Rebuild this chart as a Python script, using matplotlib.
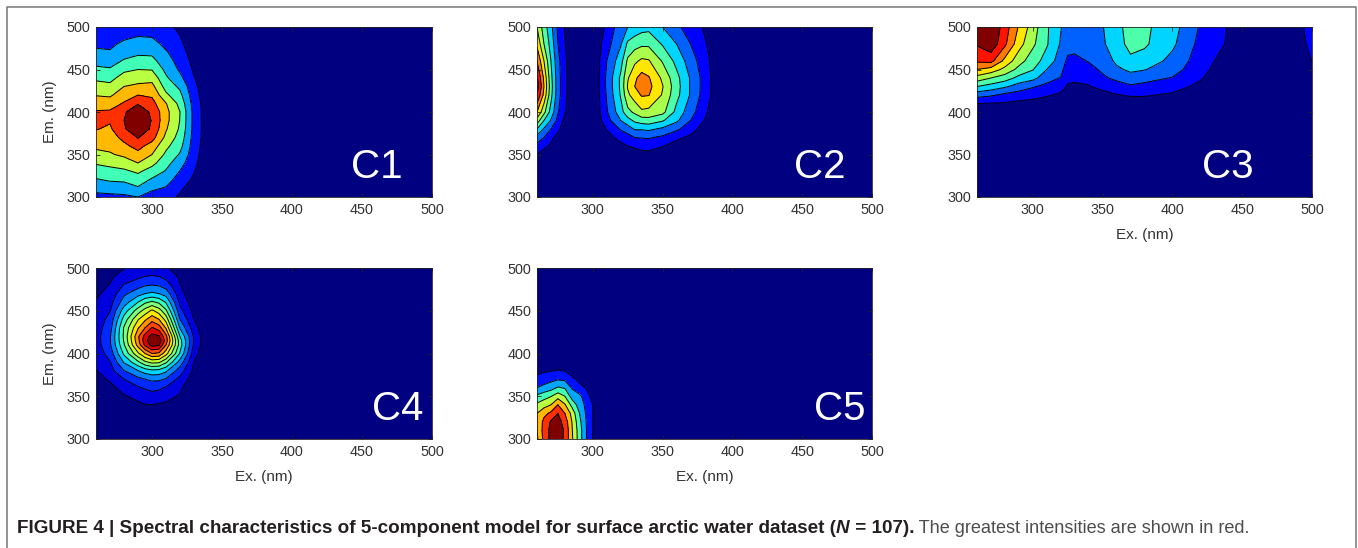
import numpy as np
import matplotlib
matplotlib.use('Agg')
import matplotlib.pyplot as plt
from matplotlib.lines import Line2D

plt.rcParams['font.family'] = ['Liberation Sans', 'DejaVu Sans']

W, H = 1358, 548
TICKS = [300, 350, 400, 450, 500]

# every z list below is one excitation column, going up in emission.
# z is the contour band: 1 is the edge dark blue/blue, 2 the next one etc
c1_ex = [260, 270, 280, 290, 300, 310, 320, 330, 340]
c1_em = [300, 310, 320, 330, 340, 350, 360, 370, 380, 390, 400, 410, 420, 430, 440, 450, 460, 470, 480, 490, 500]
c1_z = [
    [1.7, 2.3, 2.9, 3.5, 4.1, 4.7, 5.2, 5.6, 6.05, 6.15, 6.1, 5.5, 4.95, 4.4, 3.8, 3.2, 2.7, 2.2, 1.8, 1.5, 1.3],
    [1.75, 2.4, 3.1, 3.7, 4.25, 4.9, 5.25, 5.55, 5.85, 6.1, 6.15, 5.5, 4.85, 4.25, 3.7, 3.1, 2.6, 2.1, 1.8, 1.5, 1.3],
    [1.8, 2.5, 3.15, 3.8, 4.5, 5.2, 5.75, 6.3, 6.9, 7, 6.9, 6.1, 5.55, 5, 4.4, 3.8, 3.1, 2.6, 2.2, 1.75, 1.5],
    [2, 2.85, 3.5, 4.15, 5, 5.7, 6.35, 7.05, 7.6, 7.7, 7.5, 6.95, 6, 5.2, 4.6, 4, 3.3, 2.85, 2.4, 1.95, 1.7],
    [1.6, 2.15, 2.85, 3.55, 4.3, 5, 5.55, 6.4, 6.85, 6.95, 6.85, 6.35, 5.85, 5.3, 4.65, 3.95, 3.3, 2.8, 2.35, 1.9, 1.6],
    [1.4, 1.9, 2.4, 2.9, 3.35, 3.8, 4.25, 4.75, 5.1, 5.3, 5.3, 5.05, 4.2, 3.6, 3.15, 2.75, 2.4, 2.1, 1.75, 1.45, 1.25],
    [0.85, 1.15, 1.55, 1.95, 2.4, 2.9, 3.3, 3.6, 3.85, 3.97, 4, 3.7, 3.25, 2.8, 2.25, 1.85, 1.65, 1.45, 1.2, 1, 0.8],
    [0.2, 0.5, 0.8, 1.05, 1.25, 1.4, 1.5, 1.6, 1.65, 1.65, 1.65, 1.55, 1.4, 1.25, 1.05, 0.85, 0.7, 0.5, 0.35, 0.2, 0.1],
    [0, 0, 0.1, 0.1, 0.2, 0.3, 0.35, 0.4, 0.4, 0.4, 0.4, 0.4, 0.35, 0.3, 0.2, 0.15, 0.1, 0.05, 0, 0, 0],
]

c2_ex = [260, 265, 270, 275, 280, 285, 300, 310, 320, 325, 330, 335, 340, 350, 360, 370, 380, 390]
c2_em = [300, 340, 350, 360, 370, 380, 390, 400, 420, 430, 440, 460, 480, 500]
c2_z = [
    [0, 0, 0.95, 1.7, 2.6, 4, 5.6, 7, 9, 9.6, 9.2, 8, 6.8, 6],
    [0, 0, 0.6, 1.2, 2, 2.9, 4, 5.3, 6.7, 7, 6.8, 6, 5, 4.5],
    [0, 0, 0.1, 0.85, 1.2, 2, 2.9, 3.6, 4.3, 4.4, 4.3, 4, 3.6, 3.3],
    [0, 0, 0, 0.4, 0.7, 1.2, 1.7, 2.1, 2.4, 2.4, 2.4, 2.3, 2, 1.8],
    [0, 0, 0, 0, 0.1, 0.4, 0.7, 1.1, 1.25, 1.25, 1.25, 1.2, 1.05, 0.9],
    [0, 0, 0, 0, 0, 0, 0.1, 0.2, 0.3, 0.3, 0.3, 0.3, 0.25, 0.2],
    [0, 0, 0, 0, 0, 0, 0, 0, 0, 0, 0, 0, 0, 0],
    [0, 0, 0, 0.2, 0.7, 1.05, 1.6, 1.9, 2.1, 2.2, 2.2, 2, 1.6, 1.2],
    [0, 0, 0.3, 0.8, 1.25, 2.1, 3, 3.6, 4.1, 4.2, 4.2, 3.6, 2.9, 2.6],
    [0, 0, 0.3, 1, 1.6, 2.5, 3.6, 4.7, 5.8, 6.1, 5.9, 5.2, 4.2, 3],
    [0, 0, 0.4, 1.2, 2, 3.1, 4.2, 5.2, 6.5, 7, 6.8, 5.8, 4.6, 3.3],
    [0, 0, 0.65, 1.35, 2.05, 3.1, 4.5, 5.8, 7.1, 7.6, 7.4, 6.2, 4.8, 3.6],
    [0, 0, 0.7, 1.4, 2.1, 3.2, 4.6, 5.7, 7.05, 7.3, 7.1, 6.1, 4.8, 3.7],
    [0, 0, 0.3, 1.05, 1.8, 2.8, 4.1, 5.3, 5.9, 6.05, 5.8, 4.9, 3.9, 3],
    [0, 0, 0, 0.6, 1.2, 2.2, 3.2, 3.7, 4.3, 4.4, 4.3, 3.7, 3, 2.2],
    [0, 0, 0, 0.2, 0.8, 1.4, 2, 2.4, 2.9, 2.9, 2.9, 2.5, 2, 1.55],
    [0, 0, 0, 0, 0.2, 0.6, 0.95, 1.25, 1.55, 1.6, 1.6, 1.4, 1.15, 0.85],
    [0, 0, 0, 0, 0, 0, 0, 0.1, 0.3, 0.3, 0.3, 0.3, 0.2, 0],
]

c3_ex = [260, 270, 280, 290, 300, 310, 320, 325, 330, 340, 350, 360, 370, 380, 400, 420, 440, 450, 490, 500]
c3_em = [300, 400, 410, 420, 430, 440, 450, 460, 480, 500]
c3_z = [
    [0, 0.3, 1, 2.4, 4, 5.6, 7, 8.15, 9.1, 9.6],
    [0, 0.2, 0.95, 2.15, 3.6, 5, 6.6, 8.3, 9.7, 10],
    [0, 0.05, 0.9, 1.75, 3.15, 4.5, 5.7, 6.7, 8.2, 8.5],
    [0, 0, 0.75, 1.55, 2.55, 3.7, 4.7, 5.4, 6.4, 6.9],
    [0, 0, 0.65, 1.35, 2.1, 3.3, 4.05, 4.45, 5.2, 5.5],
    [0, 0, 0.5, 1.1, 1.75, 2.4, 3, 3.6, 4.1, 4.15],
    [0, 0, 0.3, 0.85, 1.35, 1.95, 2.3, 2.5, 2.9, 3.05],
    [0, 0, 0.1, 0.4, 0.9, 1.2, 1.45, 1.8, 2.4, 2.6],
    [0, 0, 0, 0.3, 0.85, 1.15, 1.4, 1.75, 2.35, 2.5],
    [0, 0, 0, 0.4, 0.95, 1.2, 1.7, 2.05, 2.4, 2.5],
    [0, 0, 0.1, 0.7, 1.25, 1.85, 2.15, 2.4, 2.85, 2.95],
    [0, 0, 0.3, 0.95, 1.6, 2.2, 2.8, 3.2, 3.6, 3.7],
    [0, 0, 0.5, 1.1, 1.85, 2.6, 3.2, 3.8, 4.3, 4.4],
    [0, 0, 0.5, 1.1, 1.75, 2.3, 3.05, 3.6, 4.15, 4.2],
    [0, 0, 0.35, 0.85, 1.4, 1.95, 2.4, 2.7, 3.2, 3.4],
    [0, 0, 0.1, 0.4, 0.75, 1.1, 1.35, 1.5, 1.7, 1.9],
    [0, 0, 0, 0, 0, 0.1, 0.3, 0.5, 0.9, 0.95],
    [0, 0, 0, 0, 0, 0, 0, 0, 0, 0],
    [0, 0, 0, 0, 0, 0, 0, 0.2, 0.5, 0.6],
    [0, 0, 0, 0, 0.3, 0.6, 0.8, 1.02, 1.35, 1.6],
]

c4_ex = [260, 270, 280, 290, 295, 300, 305, 310, 320, 330, 340]
c4_em = [300, 340, 350, 360, 370, 380, 390, 400, 410, 415, 420, 430, 440, 450, 460, 470, 480, 490, 500]
c4_z = [
    [0, 0, 0, 0.2, 0.6, 0.95, 1.2, 1.4, 1.5, 1.55, 1.55, 1.5, 1.4, 1.25, 1.05, 0.85, 0.6, 0.4, 0.2],
    [0, 0, 0.3, 0.7, 1.15, 1.6, 1.95, 2.4, 2.85, 2.9, 2.9, 2.6, 2.3, 1.95, 1.6, 1.3, 1.05, 0.8, 0.5],
    [0, 0.3, 0.9, 1.4, 2, 3, 4.1, 5.2, 5.9, 6.1, 6.2, 6.1, 5.4, 4.5, 3.5, 2.8, 2.05, 1.5, 0.95],
    [0, 0.8, 1.3, 1.9, 2.7, 4, 5.8, 7.8, 9.4, 9.7, 9.8, 8.9, 7.9, 6.5, 5, 3.6, 2.6, 1.8, 1.25],
    [0, 0.95, 1.5, 2.1, 3, 4.5, 6.8, 9, 11.2, 11.6, 11.4, 10, 8.8, 7.4, 5.8, 4, 2.9, 2, 1.4],
    [0, 1, 1.6, 2.3, 3.2, 4.8, 7.3, 10, 12.4, 12.8, 12.4, 11.1, 9.6, 8.2, 6.2, 4.2, 3, 2.1, 1.4],
    [0, 0.9, 1.5, 2.2, 3.2, 4.7, 7.2, 9.8, 12.1, 12.6, 12.1, 10.5, 9, 7.5, 5.8, 4, 2.9, 2, 1.3],
    [0, 0.85, 1.3, 1.9, 2.9, 4.2, 6.2, 8.4, 10, 10.5, 10.3, 8.9, 7.6, 6.2, 4.9, 3.6, 2.5, 1.7, 1.1],
    [0, 0.4, 0.9, 1.2, 1.7, 2.5, 3.6, 4.9, 5.5, 5.4, 5, 3.9, 3, 2.3, 1.8, 1.35, 1.05, 0.85, 0.6],
    [0, 0, 0, 0.1, 0.4, 0.75, 1, 1.4, 1.8, 1.9, 1.85, 1.4, 1, 0.7, 0.4, 0.2, 0.1, 0, 0],
    [0, 0, 0, 0, 0, 0, 0, 0, 0, 0, 0, 0, 0, 0, 0, 0, 0, 0, 0],
]

c5_ex = [260, 265, 270, 275, 280, 285, 290, 295, 300, 310]
c5_em = [300, 310, 320, 330, 340, 350, 360, 370, 380, 390, 400]
c5_z = [
    [4.8, 5, 5, 5, 4.2, 3.2, 2, 1.3, 0.7, 0.2, 0],
    [6.3, 6.4, 6.3, 5.7, 4.6, 3.6, 2.3, 1.5, 0.85, 0.25, 0],
    [7.3, 7.3, 7.1, 6.2, 5, 3.95, 2.6, 1.7, 0.95, 0.3, 0],
    [7.5, 7.6, 7.4, 7, 6, 4.6, 3.1, 1.9, 1.05, 0.3, 0],
    [6.8, 6.85, 6.6, 6, 5.1, 4, 2.9, 1.8, 0.95, 0.3, 0],
    [5.2, 5.1, 5, 4.7, 3.7, 2.6, 1.9, 1.2, 0.6, 0.1, 0],
    [3.6, 3.6, 3.4, 3.1, 2.6, 2.3, 1.3, 0.8, 0.3, 0, 0],
    [2.1, 2.1, 2.05, 1.95, 1.8, 1.5, 0.95, 0.4, 0, 0, 0],
    [0.98, 0.98, 0.98, 0.98, 0.98, 0.6, 0.2, 0, 0, 0, 0],
    [0, 0, 0, 0, 0, 0, 0, 0, 0, 0, 0],
]

names = ['C1', 'C2', 'C3', 'C4', 'C5']
band_counts = [8, 10, 10, 13, 8]

caption_bold = 'FIGURE 4 | Spectral characteristics of 5-component model for surface arctic water dataset ('
caption_italic = 'N'
caption_bold2 = ' = 107).'
caption_rest = ' The greatest intensities are shown in red.'


def box(x0, y0, x1, y1):
    # pixel box of the reference -> figure fractions
    return [x0 / W, 1 - y1 / H, (x1 - x0) / W, (y1 - y0) / H]


def close_grid(ex, em, z):
    # what is not listed is plain background, so run it out to 500 with zeros
    ex, em, z = list(ex), list(em), np.array(z, dtype=float).T
    if ex[-1] < 500:
        ex.append(500)
        z = np.hstack([z, np.zeros((z.shape[0], 1))])
    if em[-1] < 500:
        em.append(500)
        z = np.vstack([z, np.zeros((1, z.shape[1]))])
    return ex, em, z


def draw_panel(ax, ex, em, z, n_bands):
    ex, em, z = close_grid(ex, em, z)
    jet = plt.get_cmap('jet')
    colors = [jet(i / (n_bands - 1)) for i in range(n_bands)]
    lines = list(range(1, n_bands))
    ax.contourf(ex, em, z, levels=[-1] + lines + [99], colors=colors)
    ax.contour(ex, em, z, levels=lines, colors='black', linewidths=0.7)
    ax.set_xlim(260, 500)
    ax.set_ylim(300, 500)
    ax.set_xticks(TICKS)
    ax.set_yticks(TICKS)
    ax.tick_params(direction='in', top=True, right=True, length=3, width=0.6,
                   labelsize=10.4, labelcolor='#333333', color='#222222', pad=4)
    for s in ax.spines.values():
        s.set_linewidth(0.6)
        s.set_color('#222222')


fig = plt.figure(figsize=(W / 100, H / 100), dpi=100)

ax1 = fig.add_axes(box(96, 27, 432, 197))
ax2 = fig.add_axes(box(537, 27, 872, 197))
ax3 = fig.add_axes(box(977, 27, 1312, 197))
ax4 = fig.add_axes(box(96, 268, 432, 439))
ax5 = fig.add_axes(box(537, 268, 872, 439))

draw_panel(ax1, c1_ex, c1_em, c1_z, band_counts[0])
draw_panel(ax2, c2_ex, c2_em, c2_z, band_counts[1])
draw_panel(ax3, c3_ex, c3_em, c3_z, band_counts[2])
draw_panel(ax4, c4_ex, c4_em, c4_z, band_counts[3])
draw_panel(ax5, c5_ex, c5_em, c5_z, band_counts[4])

for ax in [ax1, ax4]:
    ax.set_ylabel('Em. (nm)', fontsize=11, color='#333333', labelpad=7)
for ax in [ax3, ax4, ax5]:
    ax.set_xlabel('Ex. (nm)', fontsize=11, color='#333333', labelpad=8)

# big white panel names, left edge and baseline in pixels
name_pos = [(351, 178), (794, 178), (1202, 178), (372, 420), (814, 420)]
for name, (px, py) in zip(names, name_pos):
    fig.text(px / W, 1 - py / H, name, color='white', fontsize=29, ha='left', va='baseline')

# grey frame round the figure, open at the bottom
frame_x = [6.5, 6.5, 1356, 1356]
frame_y = [548, 6.5, 6.5, 548]
fig.add_artist(Line2D([v / W for v in frame_x], [1 - v / H for v in frame_y],
                      color='#777777', lw=1.1, transform=fig.transFigure))

# caption is four pieces, each starts where the last one ended
renderer = fig.canvas.get_renderer()
cap_x = 17
cap_y = 1 - 533 / H
pieces = [(caption_bold, 'bold', 'normal', '#231f20', 13.55),
          (caption_italic, 'bold', 'italic', '#231f20', 13.55),
          (caption_bold2, 'bold', 'normal', '#231f20', 13.55),
          (caption_rest, 'normal', 'normal', '#4d4d4d', 13.05)]
for txt, weight, style, col, size in pieces:
    t = fig.text(cap_x / W, cap_y, txt, fontsize=size, fontweight=weight, fontstyle=style,
                 color=col, ha='left', va='baseline')
    cap_x = t.get_window_extent(renderer).x1

fig.savefig('out.png', dpi=100)
